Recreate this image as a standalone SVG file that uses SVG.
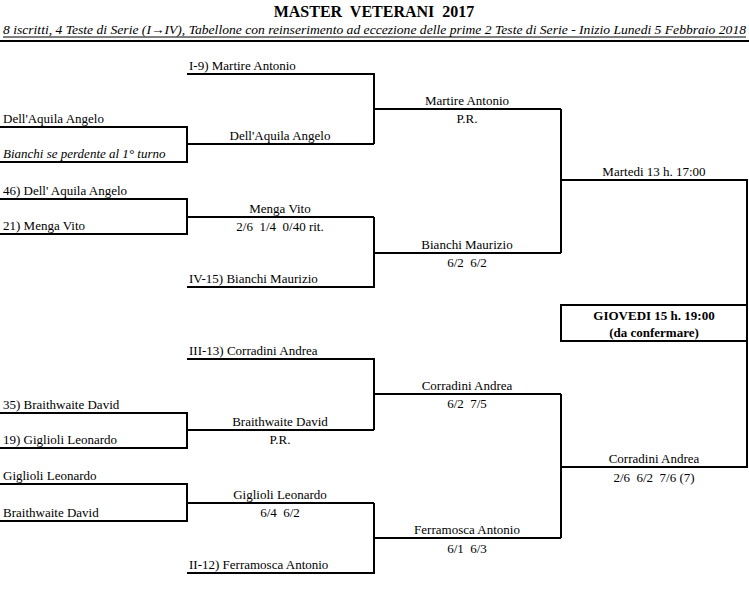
<svg xmlns="http://www.w3.org/2000/svg" width="749" height="592" viewBox="0 0 749 592">
<style>
text{font-family:"Liberation Serif","Times New Roman",serif;font-size:13px;fill:#000;white-space:pre}
.c{text-anchor:middle}
.b{font-weight:bold}
.i{font-style:italic}
.ln{stroke:#000;stroke-width:2;fill:none}
</style>
<rect width="749" height="592" fill="#fff"/>
<g id="header">
<text class="c b" x="374" y="17" style="font-size:16px">MASTER  VETERANI  2017</text>
<text class="i" x="3" y="34" textLength="743" lengthAdjust="spacingAndGlyphs" style="font-size:13.5px">8 iscritti, 4 Teste di Serie (I→IV), Tabellone con reinserimento ad eccezione delle prime 2 Teste di Serie - Inizio Lunedi 5 Febbraio 2018</text>
<line x1="3" y1="37" x2="746" y2="37" stroke="#000" stroke-width="1"/>
<line x1="0" y1="41" x2="749" y2="41" stroke="#000" stroke-width="2"/>
</g>
<g id="connectors" class="ln">
<path class="ln" d="M0 127H187V162H0M187 144H374"/>
<path class="ln" d="M0 199H187V234H0M187 217H374"/>
<path class="ln" d="M0 413H187V448H0M187 430H374"/>
<path class="ln" d="M0 484H187V521H0M187 503H374"/>
<path class="ln" d="M187 74H374V144M374 109H561"/>
<path class="ln" d="M374 217V287H187M374 253H561"/>
<path class="ln" d="M187 359H374V430M374 394H561"/>
<path class="ln" d="M374 503V573H187M374 538H561"/>
<path class="ln" d="M561 109V253M561 180H747V467H561M561 394V538"/>
</g>
<g id="r1-a"><text x="3" y="123">Dell'Aquila Angelo</text></g>
<g id="r1-b"><text class="i" x="3" y="158">Bianchi se perdente al 1° turno</text></g>
<g id="r1-c"><text x="3" y="195">46) Dell' Aquila Angelo</text></g>
<g id="r1-d"><text x="3" y="230">21) Menga Vito</text></g>
<g id="r1-e"><text x="3" y="409">35) Braithwaite David</text></g>
<g id="r1-f"><text x="3" y="444">19) Giglioli Leonardo</text></g>
<g id="r1-g"><text x="3" y="480">Giglioli Leonardo</text></g>
<g id="r1-h"><text x="3" y="517">Braithwaite David</text></g>
<g id="r2-a"><text x="189" y="70">I-9) Martire Antonio</text></g>
<g id="r2-b"><text class="c" x="280" y="140">Dell'Aquila Angelo</text></g>
<g id="r2-c"><text class="c" x="280" y="213">Menga Vito</text><text class="c" x="280" y="231">2/6  1/4  0/40 rit.</text></g>
<g id="r2-d"><text x="189" y="283">IV-15) Bianchi Maurizio</text></g>
<g id="r2-e"><text x="189" y="355">III-13) Corradini Andrea</text></g>
<g id="r2-f"><text class="c" x="280" y="426">Braithwaite David</text><text class="c" x="280" y="444">P.R.</text></g>
<g id="r2-g"><text class="c" x="280" y="499">Giglioli Leonardo</text><text class="c" x="280" y="517">6/4  6/2</text></g>
<g id="r2-h"><text x="189" y="569">II-12) Ferramosca Antonio</text></g>
<g id="r3-a"><text class="c" x="467" y="105">Martire Antonio</text><text class="c" x="467" y="123">P.R.</text></g>
<g id="r3-b"><text class="c" x="467" y="249">Bianchi Maurizio</text><text class="c" x="467" y="267">6/2  6/2</text></g>
<g id="r3-c"><text class="c" x="467" y="390">Corradini Andrea</text><text class="c" x="467" y="408">6/2  7/5</text></g>
<g id="r3-d"><text class="c" x="467" y="534">Ferramosca Antonio</text><text class="c" x="467" y="553">6/1  6/3</text></g>
<g id="r4-a"><text class="c" x="654" y="176">Martedi 13 h. 17:00</text></g>
<g id="r4-b"><text class="c" x="654" y="463">Corradini Andrea</text><text class="c" x="654" y="482">2/6  6/2  7/6 (7)</text></g>
<g id="final">
<rect class="ln" x="561" y="305" width="186" height="36"/>
<text class="c b" x="654" y="320">GIOVEDI 15 h. 19:00</text>
<text class="c b" x="654" y="337">(da confermare)</text>
</g>
</svg>
